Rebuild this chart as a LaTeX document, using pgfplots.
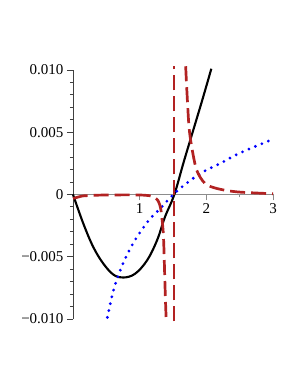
\documentclass[border=0pt]{standalone}
\usepackage{fontspec}
\setmainfont{Liberation Serif}
\usepackage{pgfplots}
\pgfplotsset{compat=1.18}
\definecolor{mred}{RGB}{178,34,34}
\definecolor{mgray}{RGB}{140,140,140}
\begin{document}
\begin{tikzpicture}[font=\fontsize{15bp}{18bp}\selectfont]
\useasboundingbox (0,0) rectangle (300bp,388bp);
\begin{axis}[
  at={(73bp,69bp)}, anchor=south west,
  scale only axis, width=200bp, height=249bp,
  xmin=0, xmax=3, ymin=-0.01, ymax=0.01,
  clip=false,
  axis lines=middle,
  x axis line style={-, mgray, line width=1.4bp},
  y axis line style={-, black!75, line width=0.9bp},
  hide obscured y ticks=false,
  hide obscured x ticks=false,
  xtick={1,2,3}, xticklabels={1,2,3},
  minor x tick num=1,
  ytick={-0.01,-0.005,0,0.005,0.01},
  yticklabels={−0.010,−0.005,0,0.005,0.010},
  minor y tick num=4,
  scaled y ticks=false,
  tick align=outside,
  major tick length=6bp, minor tick length=3bp,
  xtick style={mgray, line width=0.9bp},
  ytick style={black!75, line width=0.9bp},
]
% black solid
\addplot[black, line width=2.1bp, smooth, tension=0.6] coordinates {
(0,0) (0.155,-0.00234) (0.305,-0.00423) (0.456,-0.00556) (0.61,-0.00645)
(0.756,-0.00667) (0.93,-0.00637) (1.11,-0.0053) (1.26,-0.00369) (1.38,-0.0018)
(1.52,0) (1.66,0.0026) (1.80,0.0051) (1.94,0.0076) (2.075,0.0101)};
% blue dotted
\addplot[blue, line width=3.1bp, line cap=round, dash pattern=on 0bp off 7bp, smooth, tension=0.6] coordinates {
(0.516,-0.00987) (0.606,-0.00772) (0.717,-0.00597) (0.857,-0.00435) (1.008,-0.00302)
(1.158,-0.00194) (1.308,-0.00113) (1.45,-0.0003) (1.605,0.00048) (1.91,0.00169)
(2.21,0.0025) (2.51,0.00335) (3,0.00444)};
% red dashed, left branch
\addplot[mred, line width=2.7bp, dash pattern=on 15bp off 6bp, smooth, tension=0.3] coordinates {
(0,-0.00032) (0.08,-0.0002) (0.155,-0.00011) (0.4,-0.00005) (0.8,-0.00003)
(1.05,-0.00005) (1.15,-0.0001) (1.22,-0.00022) (1.27,-0.00045) (1.30,-0.0008)
(1.32,-0.00127) (1.34,-0.0022) (1.355,-0.00315) (1.365,-0.0045) (1.375,-0.0064)
(1.387,-0.0085) (1.398,-0.0101)};
% red dashed, jump
\addplot[mred, line width=2.7bp, dash pattern=on 15bp off 6bp] coordinates {
(1.515,-0.0102) (1.515,0.0103)};
% red dashed, right branch
\addplot[mred, line width=2.7bp, dash pattern=on 15bp off 6bp, smooth, tension=0.5] coordinates {
(1.69,0.0103) (1.71,0.00815) (1.74,0.00545) (1.78,0.00384) (1.855,0.00196)
(1.98,0.00089) (2.16,0.00048) (2.46,0.00021) (3,0.00006)};
\end{axis}
\end{tikzpicture}
\end{document}
